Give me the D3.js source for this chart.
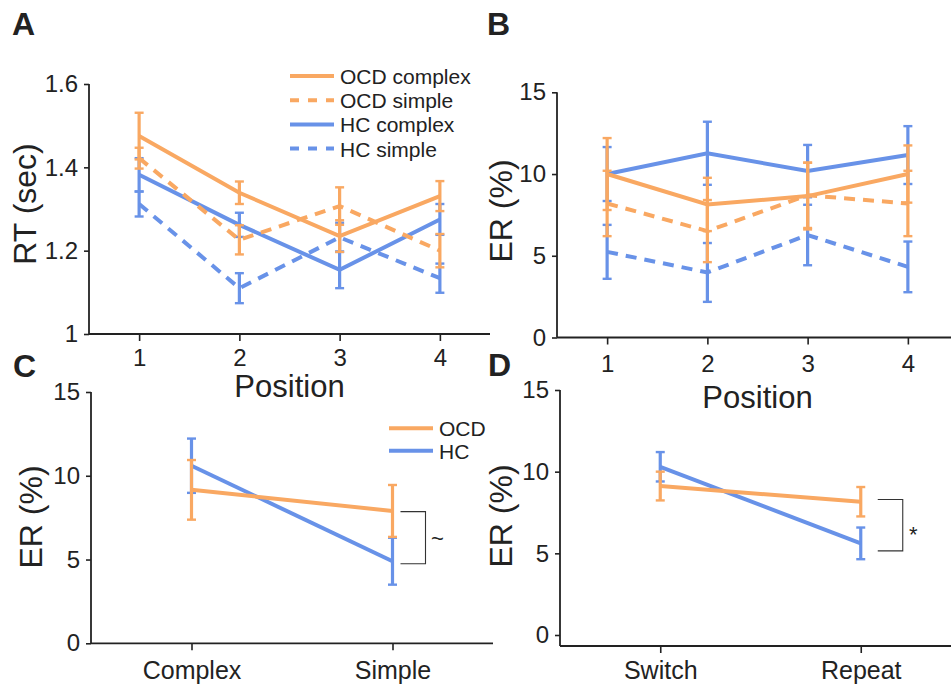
<!DOCTYPE html>
<html>
<head>
<meta charset="utf-8">
<script src="https://cdn.jsdelivr.net/npm/d3@7"></script>
<style>
  body { margin: 0; background: #fff; }
  text { font-family: Arial, "Liberation Sans", sans-serif; fill: #222; }
</style>
</head>
<body>
<svg width="951" height="685"></svg>
<script>
// ---- data ----
var positions = [1, 2, 3, 4];

// A: reaction time (sec)
var rtOcdComplex = [1.475, 1.339, 1.235, 1.331], rtOcdComplexErr = [0.056, 0.027, 0.038, 0.036];
var rtOcdSimple  = [1.422, 1.226, 1.307, 1.200], rtOcdSimpleErr  = [0.025, 0.035, 0.045, 0.040];
var rtHcComplex  = [1.382, 1.262, 1.154, 1.275], rtHcComplexErr  = [0.040, 0.029, 0.044, 0.037];
var rtHcSimple   = [1.312, 1.110, 1.232, 1.134], rtHcSimpleErr   = [0.030, 0.036, 0.035, 0.035];

// B: error rate (%) by position
var erOcdComplex = [10.0, 8.14, 8.65, 10.0], erOcdComplexErr = [2.2, 1.63, 2.04, 1.75];
var erOcdSimple  = [8.2, 6.51, 8.7, 8.2],    erOcdSimpleErr  = [2.0, 1.9, 2.0, 2.0];
var erHcComplex  = [10.0, 11.27, 10.18, 11.16], erHcComplexErr = [1.65, 1.93, 1.6, 1.77];
var erHcSimple   = [5.24, 3.98, 6.27, 4.32], erHcSimpleErr   = [1.65, 1.8, 1.85, 1.55];

// C: error rate by sequence type
var seqTypes = ["Complex", "Simple"];
var seqOcd = [9.16, 7.9], seqOcdErr = [1.78, 1.55];
var seqHc  = [10.6, 4.9], seqHcErr  = [1.62, 1.4];

// D: error rate by transition
var transTypes = ["Switch", "Repeat"];
var transOcd = [9.12, 8.16], transOcdErr = [0.88, 0.9];
var transHc  = [10.3, 5.61], transHcErr  = [0.9, 0.97];

var rtTicks = [1, 1.2, 1.4, 1.6],
    erTicks = [0, 5, 10, 15];

var orange = "#f9a862", blue = "#6892e8", ink = "#222";

var svg = d3.select("svg");

// ---- scales ----
var xA = d3.scaleLinear().domain([0.5, 4.5]).range([89, 490]),
    yA = d3.scaleLinear().domain([1, 1.6]).range([334, 84]);
var xB = d3.scaleLinear().domain([0.5, 4.5]).range([557, 958]),
    yB = d3.scaleLinear().domain([0, 15]).range([337.5, 92.3]);
var xC = d3.scaleLinear().domain([0.5, 2.5]).range([91, 493]),
    yC = d3.scaleLinear().domain([0, 15]).range([643.3, 392]);
var xD = d3.scaleLinear().domain([0.5, 2.5]).range([560, 961]),
    yD = d3.scaleLinear().domain([0, 15]).range([635, 390]);

function drawAxes(x, y, yTicks, yFmt, xLabels, baseY, xPad) {
  var x0 = x.range()[0];
  var gy = svg.append("g")
      .attr("transform", "translate(" + x0 + ",0)")
      .call(d3.axisLeft(y).tickValues(yTicks).tickFormat(yFmt)
        .tickSize(5).tickPadding(6).tickSizeOuter(0));
  gy.select(".domain").remove();
  var gx = svg.append("g")
      .attr("transform", "translate(0," + baseY + ")")
      .call(d3.axisBottom(x).tickValues(d3.range(1, xLabels.length + 1))
        .tickFormat((d, i) => xLabels[i])
        .tickSize(7).tickPadding(xPad).tickSizeOuter(0));
  gx.select(".domain").remove();
  [gx, gy].forEach(g => {
    g.attr("font-family", null).attr("font-size", null);
    g.selectAll("line").attr("stroke", ink).attr("stroke-width", 1.6);
    g.selectAll("text").style("font-size", xLabels.length > 2 || g === gy ? "24px" : "25px").attr("fill", ink);
  });
  svg.append("line")
      .attr("x1", x0).attr("x2", x0)
      .attr("y1", y.range()[1]).attr("y2", baseY)
      .attr("stroke", ink).attr("stroke-width", 1.8);
  svg.append("line")
      .attr("x1", x0).attr("x2", Math.min(x.range()[1], 951))
      .attr("y1", baseY).attr("y2", baseY)
      .attr("stroke", ink).attr("stroke-width", 1.8);
}

function drawSeries(x, y, vals, errs, color, dashed) {
  var pts = vals.map((v, i) => ({ i: i + 1, v: v, e: errs[i] }));
  var g = svg.append("g");
  pts.forEach(p => {
    g.append("line")
        .attr("x1", x(p.i)).attr("x2", x(p.i))
        .attr("y1", y(p.v - p.e)).attr("y2", y(p.v + p.e))
        .attr("stroke", color).attr("stroke-width", 3.2);
    [p.v - p.e, p.v + p.e].forEach(c => {
      g.append("line")
          .attr("x1", x(p.i) - 4.5).attr("x2", x(p.i) + 4.5)
          .attr("y1", y(c)).attr("y2", y(c))
          .attr("stroke", color).attr("stroke-width", 2.4);
    });
  });
  g.append("path")
      .datum(pts)
      .attr("fill", "none")
      .attr("stroke", color)
      .attr("stroke-width", 4)
      .attr("stroke-dasharray", dashed ? "11,8" : null)
      .attr("d", d3.line().x(d => x(d.i)).y(d => y(d.v)));
}

function yLabel(txt, x, y) {
  svg.append("text")
      .attr("transform", "translate(" + x + "," + y + ") rotate(-90)")
      .attr("text-anchor", "middle")
      .style("font-size", "32px")
      .text(txt);
}

function panelLetter(txt, x, y) {
  svg.append("text").attr("x", x).attr("y", y)
      .style("font-size", "32px").style("font-weight", "bold")
      .attr("fill", "#000").text(txt);
}

function legend(items, x, y0, dy) {
  items.forEach((it, i) => {
    var yy = y0 + i * dy;
    svg.append("line")
        .attr("x1", x).attr("x2", x + 44)
        .attr("y1", yy).attr("y2", yy)
        .attr("stroke", it.color).attr("stroke-width", 4)
        .attr("stroke-dasharray", it.dashed ? "9,9" : null);
    svg.append("text")
        .attr("x", x + 50).attr("y", yy + 8)
        .style("font-size", "21px")
        .text(it.label);
  });
}

function bracket(x, yTop, yBot, mark, markX, markY, size) {
  svg.append("path")
      .attr("d", "M" + x + "," + yTop + "H" + (x + 25) + "V" + yBot + "H" + x)
      .attr("fill", "none").attr("stroke", "#333").attr("stroke-width", 1.1);
  svg.append("text").attr("x", markX).attr("y", markY)
      .style("font-size", size + "px").text(mark);
}

var fmtRt = d => d === 1 ? "1" : d3.format(".1f")(d);

// ---- panel A ----
drawAxes(xA, yA, rtTicks, fmtRt, positions.map(String), 334, 8);
drawSeries(xA, yA, rtHcSimple, rtHcSimpleErr, blue, true);
drawSeries(xA, yA, rtHcComplex, rtHcComplexErr, blue, false);
drawSeries(xA, yA, rtOcdSimple, rtOcdSimpleErr, orange, true);
drawSeries(xA, yA, rtOcdComplex, rtOcdComplexErr, orange, false);
yLabel("RT (sec)", 36, 204);
panelLetter("A", 12, 35);
legend([
  { label: "OCD complex", color: orange, dashed: false },
  { label: "OCD simple", color: orange, dashed: true },
  { label: "HC complex", color: blue, dashed: false },
  { label: "HC simple", color: blue, dashed: true }
], 290, 76, 24.2);
svg.append("text").attr("x", xA(2.5)).attr("y", 397)
    .attr("text-anchor", "middle").style("font-size", "31px").text("Position");

// ---- panel B ----
drawAxes(xB, yB, erTicks, d3.format("d"), positions.map(String), 337.5, 10);
drawSeries(xB, yB, erHcSimple, erHcSimpleErr, blue, true);
drawSeries(xB, yB, erHcComplex, erHcComplexErr, blue, false);
drawSeries(xB, yB, erOcdSimple, erOcdSimpleErr, orange, true);
drawSeries(xB, yB, erOcdComplex, erOcdComplexErr, orange, false);
yLabel("ER (%)", 512, 211);
panelLetter("B", 487, 35);
svg.append("text").attr("x", xB(2.5)).attr("y", 408)
    .attr("text-anchor", "middle").style("font-size", "31px").text("Position");

// ---- panel C ----
drawAxes(xC, yC, erTicks, d3.format("d"), seqTypes, 643.3, 11);
drawSeries(xC, yC, seqHc, seqHcErr, blue, false);
drawSeries(xC, yC, seqOcd, seqOcdErr, orange, false);
yLabel("ER (%)", 42, 517);
panelLetter("C", 13, 377);
legend([
  { label: "OCD", color: orange, dashed: false },
  { label: "HC", color: blue, dashed: false }
], 389, 428.3, 22.4);
bracket(xC(2) + 8, yC(7.86), yC(4.75), "~", 431, 546, 22);

// ---- panel D ----
drawAxes(xD, yD, erTicks, d3.format("d"), transTypes, 646, 8);
drawSeries(xD, yD, transHc, transHcErr, blue, false);
drawSeries(xD, yD, transOcd, transOcdErr, orange, false);
yLabel("ER (%)", 512, 516);
panelLetter("D", 488, 376);
bracket(xD(2) + 17, yD(8.3), yD(5.15), "*", 909, 542, 22);
</script>
</body>
</html>
